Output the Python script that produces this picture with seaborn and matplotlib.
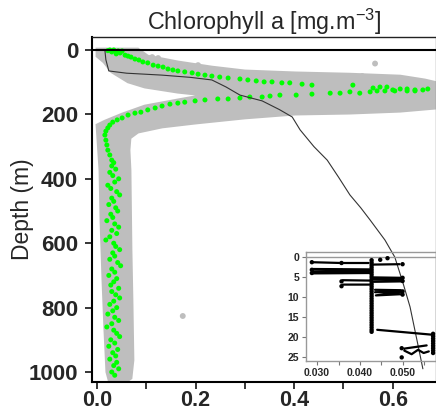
import numpy as np
import pandas as pd
import matplotlib
matplotlib.use("Agg")
import matplotlib.pyplot as plt
import seaborn as sns

# ---------------- data ----------------
title_text = "Chlorophyll a [mg.m$^{-3}$]"
ylabel_text = "Depth (m)"
x_ticks = [0.0, 0.1, 0.2, 0.3, 0.4, 0.5, 0.6]
x_tick_labels = ["0.0", "", "0.2", "", "0.4", "", "0.6"]
y_ticks = [0, 200, 400, 600, 800, 1000]
y_tick_labels = ["0", "200", "400", "600", "800", "1000"]

# envelope of the grey cloud of all profiles (chl, depth)
cloud_chl = [0.000, 0.083, 0.103, 0.164, 0.233, 0.300, 0.402, 0.513, 0.615, 0.665, 0.690,
             0.690, 0.615, 0.513, 0.402, 0.300, 0.199, 0.132, 0.083, 0.067, 0.065, 0.067,
             0.069, 0.071, 0.073, 0.069, 0.055, 0.026, 0.020, 0.016, 0.012, 0.008, 0.006,
             0.002, 0.000, 0.016, 0.051, 0.097, 0.164, 0.219, 0.164, 0.097, 0.063, 0.030,
             0.014, 0.000]
cloud_depth = [-3, -3, 19, 37, 53, 65, 71, 75, 81, 93, 102,
               180, 190, 196, 199, 211, 227, 239, 255, 273, 311, 373,
               621, 777, 963, 1019, 1034, 1034, 1000, 870, 714, 528, 373,
               280, 233, 221, 199, 174, 155, 140, 131, 115, 99, 68,
               37, 19]

# isolated grey points
grey_chl = [0.112, 0.124, 0.205, 0.245, 0.327, 0.367, 0.538, 0.564, 0.174, 0.061, 0.041]
grey_depth = [22, 25, 47, 64, 78, 78, 81, 42, 826, 410, 1025]

# highlighted profile (green)
green_chl = [0.026, 0.034, 0.043, 0.051, 0.030, 0.039, 0.047, 0.022, 0.038, 0.057, 0.063,
             0.069, 0.077, 0.085, 0.093, 0.103, 0.114, 0.124, 0.134, 0.144, 0.154, 0.164,
             0.178, 0.193, 0.205, 0.219, 0.233, 0.249, 0.266, 0.290, 0.306, 0.323, 0.339,
             0.355, 0.375, 0.391, 0.416, 0.436, 0.519, 0.560, 0.574, 0.588, 0.600, 0.615,
             0.629, 0.645, 0.661, 0.671,
             0.645, 0.629, 0.604, 0.584, 0.568, 0.554, 0.533, 0.513, 0.493, 0.473, 0.436,
             0.404, 0.371, 0.351, 0.335, 0.310, 0.290, 0.266, 0.245, 0.219, 0.199, 0.178,
             0.164, 0.148, 0.132, 0.118, 0.103, 0.089, 0.077, 0.063, 0.051, 0.041, 0.032,
             0.026, 0.022, 0.018, 0.016, 0.018, 0.020, 0.022, 0.026, 0.030,
             0.034, 0.030, 0.038, 0.026, 0.032, 0.044, 0.036, 0.022, 0.028, 0.040, 0.046,
             0.030, 0.034, 0.024, 0.038, 0.042, 0.028, 0.032, 0.020, 0.036, 0.044, 0.030,
             0.040, 0.026, 0.018, 0.034, 0.038, 0.046, 0.032, 0.036, 0.026, 0.042, 0.048,
             0.030, 0.036, 0.024, 0.040, 0.034, 0.028, 0.044, 0.030, 0.038, 0.046, 0.034,
             0.026, 0.040, 0.032, 0.022, 0.036, 0.044, 0.030, 0.020, 0.034, 0.040, 0.046,
             0.028, 0.036, 0.024, 0.042, 0.032, 0.038, 0.026, 0.040, 0.034, 0.044, 0.030,
             0.036]
green_depth = [0, 0, 3, 3, 6, 12, 9, 2, 5, 16, 19,
               22, 28, 31, 37, 40, 47, 50, 53, 59, 62, 65,
               68, 71, 75, 78, 81, 84, 87, 90, 93, 96, 99,
               99, 102, 102, 106, 109, 109, 118, 115, 115, 124, 121,
               121, 124, 124, 121,
               127, 127, 127, 127, 127, 130, 134, 130, 134, 134, 137,
               140, 140, 143, 146, 146, 149, 152, 152, 155, 158, 162,
               165, 168, 174, 180, 186, 193, 196, 202, 211, 217, 224,
               233, 242, 252, 264, 280, 295, 311, 326, 342,
               350, 360, 370, 380, 390, 400, 410, 420, 430, 440, 450,
               460, 470, 480, 490, 500, 510, 520, 530, 540, 550, 560,
               570, 580, 590, 600, 610, 620, 630, 640, 650, 660, 670,
               680, 690, 700, 710, 720, 730, 740, 750, 760, 770, 780,
               790, 800, 810, 820, 830, 840, 850, 860, 870, 880, 890,
               900, 910, 920, 930, 940, 950, 960, 970, 980, 990, 1000,
               1010]

# reference profile (black line)
line_chl = [0.016, 0.018, 0.024, 0.060, 0.132, 0.190, 0.233, 0.262, 0.290, 0.335, 0.370,
            0.396, 0.412, 0.440, 0.467, 0.490, 0.513, 0.535, 0.554, 0.584, 0.604, 0.620,
            0.635, 0.649, 0.661]
line_depth = [0, 30, 65, 72, 78, 85, 93, 115, 140, 158, 185,
              208, 248, 300, 342, 395, 450, 490, 528, 590, 643, 720,
              798, 901, 990]

# inset: surface measurements (segments separated by NaN)
inset_seg_chl = [0.0288, 0.0357, 0.0420, np.nan, 0.0427, 0.0492, np.nan,
                 0.0290, 0.0427, np.nan, 0.0290, 0.0427, np.nan, 0.0290, 0.0427, np.nan,
                 0.0360, 0.0427, np.nan, 0.0360, 0.0427, np.nan,
                 0.0432, 0.0495, np.nan, 0.0432, 0.0495, np.nan, 0.0432, 0.0495, np.nan,
                 0.0435, 0.0495, np.nan, 0.0435, 0.0495, 0.0437, 0.0495, np.nan,
                 0.0440, 0.0565, np.nan,
                 0.0503, 0.0555, np.nan, 0.0503, 0.0520, 0.0535, 0.0548, 0.0560]
inset_seg_depth = [1.3, 1.5, 1.5, np.nan, 1.9, 1.8, np.nan,
                   3.0, 3.1, np.nan, 3.6, 3.5, np.nan, 4.1, 4.0, np.nan,
                   5.8, 5.9, np.nan, 6.9, 6.9, np.nan,
                   5.1, 5.2, np.nan, 5.6, 5.6, np.nan, 6.2, 6.1, np.nan,
                   8.2, 8.3, np.nan, 8.8, 8.7, 9.6, 9.3, np.nan,
                   18.2, 19.4, np.nan,
                   22.9, 22.1, np.nan, 23.4, 24.3, 23.2, 24.0, 23.6]
inset_pt_chl = ([0.0288, 0.0288, 0.0288, 0.0357, 0.0357, 0.0357, 0.0357]
                + [0.0427] * 31
                + [0.0447, 0.0464, 0.0499, 0.0499, 0.0499, 0.0499, 0.0499, 0.0497, 0.0497]
                + [0.0570] * 9)
inset_pt_depth = ([1.3, 3.2, 4.0, 1.5, 3.4, 6.1, 7.3]
                  + [0.8, 1.4, 2.0, 2.6, 3.2, 3.8, 4.4, 5.0, 5.6, 6.2, 6.8, 7.4, 8.0, 8.6,
                     9.2, 9.8, 10.4, 11.0, 11.6, 12.2, 12.8, 13.4, 14.0, 14.6, 15.2, 15.8,
                     16.4, 17.0, 17.6, 18.2, 18.7]
                  + [0.7, 0.3, 1.8, 5.2, 6.0, 8.6, 9.4, 22.8, 25.1]
                  + [19.2, 19.8, 20.4, 21.0, 21.6, 22.2, 22.8, 23.4, 24.0])
inset_x_ticks = [0.030, 0.035, 0.040, 0.045, 0.050, 0.055]
inset_x_tick_labels = ["0.030", "", "0.040", "", "0.050", ""]
inset_y_ticks = [0, 5, 10, 15, 20, 25]
inset_y_tick_labels = ["0", "5", "10", "15", "20", "25"]

# ---------------- style ----------------
sns.set_style("ticks")
plt.rcParams['font.family'] = ['Liberation Sans', 'DejaVu Sans']
plt.rcParams['mathtext.fontset'] = 'custom'
plt.rcParams['mathtext.rm'] = 'Liberation Sans'
plt.rcParams['mathtext.it'] = 'Liberation Sans:italic'
plt.rcParams['mathtext.bf'] = 'Liberation Sans:bold'

GREY = '#BEBEBE'
GREEN = '#00FF00'

W, H = 436, 412
fig = plt.figure(figsize=(W / 100, H / 100), dpi=100)
ax = fig.add_axes([92 / W, (H - 382) / H, (435.5 - 92) / W, (382 - 37) / H])

ax.fill(cloud_chl, cloud_depth, color=GREY, ec=GREY, lw=2.0, zorder=1)
sns.scatterplot(x=grey_chl, y=grey_depth, color=GREY, s=18, edgecolor='none', ax=ax, zorder=2)
sns.scatterplot(x=green_chl, y=green_depth, color=GREEN, s=13, edgecolor='none', ax=ax, zorder=3)
sns.lineplot(x=line_chl, y=line_depth, sort=False, estimator=None, color='#333333',
             lw=0.8, ax=ax, zorder=4)
ax.axhline(0, color='black', lw=1.5, zorder=5)

ax.set_xlim(-0.0101, 0.6866)
ax.set_ylim(1031, -40.4)
ax.set_xticks(x_ticks)
ax.set_xticklabels(x_tick_labels, fontsize=15.5, fontweight='bold')
ax.set_yticks(y_ticks)
ax.set_yticklabels(y_tick_labels, fontsize=16, fontweight='bold')
ax.tick_params(axis='both', direction='out', length=5, width=1.1, color='black')
ax.tick_params(axis='x', pad=0.5)
ax.tick_params(axis='y', pad=5)
for side in ['left', 'bottom']:
    ax.spines[side].set_linewidth(1.5)
    ax.spines[side].set_color('black')
ax.spines['top'].set_linewidth(1.0)
ax.spines['top'].set_color('#222222')
ax.spines['right'].set_linewidth(1.0)
ax.spines['right'].set_color('#888888')
ax.set_xlabel("")
ax.set_ylabel(ylabel_text, fontsize=16.5)
ax.yaxis.set_label_coords(-0.169, 0.5)
ax.set_title(title_text, fontsize=16.8, pad=3.8)

# ---------------- inset ----------------
axi = fig.add_axes([306 / W, (H - 361) / H, (435.5 - 306) / W, (361 - 252) / H], facecolor='none')
axi.plot(inset_seg_chl, inset_seg_depth, color='black', lw=1.6)
sns.scatterplot(x=inset_pt_chl, y=inset_pt_depth, color='black', s=10, edgecolor='none', ax=axi,
                zorder=3)
axi.axhline(0, color='#999999', lw=1.0)
axi.set_xlim(0.02744, 0.05756)
axi.set_ylim(26, -1.25)
axi.set_xticks(inset_x_ticks)
axi.set_xticklabels(inset_x_tick_labels, fontsize=7.5, fontweight='bold')
axi.set_yticks(inset_y_ticks)
axi.set_yticklabels(inset_y_tick_labels, fontsize=7.5, fontweight='bold')
axi.tick_params(axis='both', direction='out', length=3, width=0.8, color='#777777', pad=2)
for side in axi.spines:
    axi.spines[side].set_color('#999999')
    axi.spines[side].set_linewidth(1.0)
axi.set_xlabel("")
axi.set_ylabel("")

fig.savefig("out.png", dpi=100)
